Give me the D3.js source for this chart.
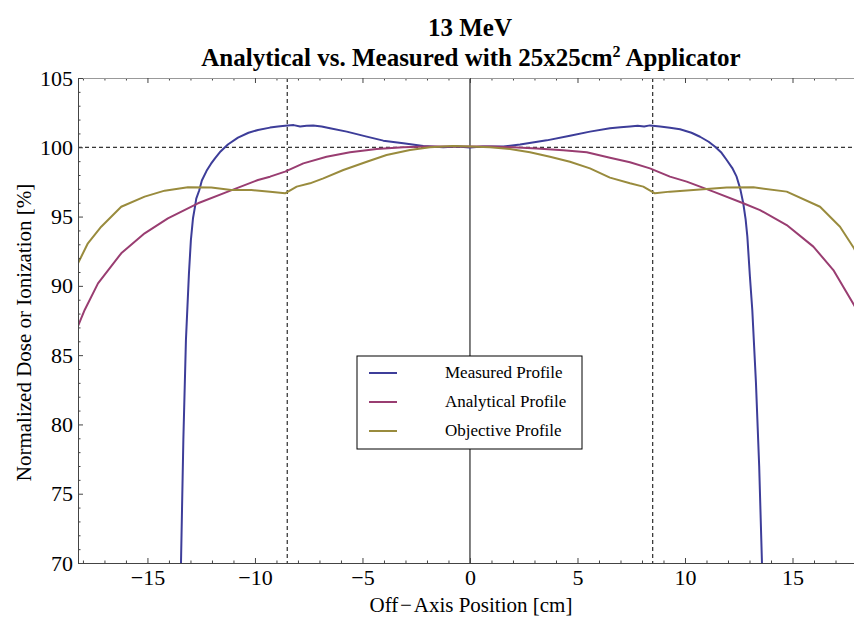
<!DOCTYPE html>
<html>
<head>
<meta charset="utf-8">
<script src="https://cdn.jsdelivr.net/npm/d3@7"></script>
<style>
  body { margin: 0; background: #fff; }
  svg { display: block; }
  svg text { font-family: "Liberation Serif", "Times New Roman", serif; }
</style>
</head>
<body>
<div id="chart"></div>
<script>
// off-axis position [cm] and normalized dose [%]
const measuredX = [-13.55, -13.44, -13.33, -13.21, -13.07, -12.98, -12.88, -12.79, -12.73, -12.59, -12.47, -12.25, -12.05, -11.86, -11.6, -11.26, -10.79, -10.3, -9.86, -9.3, -8.93, -8.6, -8.2, -7.9, -7.6, -7.29, -6.9, -6.51, -5.73, -4.8, -4.03, -3.1, -2.17, -1.24, -0.6, 0, 0.6, 1.55, 2.33, 3.57, 4.65, 5.58, 6.51, 7.0, 7.44, 7.8, 8.1, 8.37, 8.84, 9.3, 9.77, 10.3, 10.7, 11.1, 11.4, 11.7, 11.94, 12.2, 12.4, 12.57, 12.71, 12.82, 12.9, 13.02, 13.13, 13.3, 13.45, 13.58, 13.7];
const measuredY = [68, 70, 78.9, 86.1, 90.9, 93.3, 94.9, 95.7, 96.3, 96.9, 97.6, 98.3, 98.8, 99.2, 99.7, 100.2, 100.7, 101.05, 101.25, 101.42, 101.5, 101.55, 101.6, 101.5, 101.55, 101.58, 101.5, 101.37, 101.13, 100.77, 100.48, 100.29, 100.09, 100.0, 100.05, 99.98, 100.05, 100.05, 100.2, 100.5, 100.84, 101.13, 101.37, 101.45, 101.5, 101.55, 101.5, 101.58, 101.5, 101.41, 101.3, 101.05, 100.76, 100.4, 100.04, 99.6, 99.08, 98.5, 97.88, 97.0, 95.96, 94.8, 93.55, 90.66, 88.26, 83, 77, 70, 66];

const analyticalX = [-18.5, -18.23, -17.92, -17.3, -16.22, -15.13, -14.05, -12.65, -11.26, -9.86, -9.3, -8.6, -7.75, -6.67, -5.58, -4.34, -3.1, -2, -1, 0, 1, 2, 3.1, 4.34, 5.43, 6.51, 7.44, 8.37, 9.3, 10.08, 11.32, 12.71, 13.49, 14.73, 15.97, 16.9, 17.86, 18.1];
const analyticalY = [86.5, 87.1, 88.26, 90.18, 92.35, 93.79, 94.87, 95.96, 96.8, 97.64, 97.88, 98.24, 98.84, 99.32, 99.64, 99.88, 100.0, 100.05, 100.05, 100.05, 100.05, 100.0, 99.92, 99.78, 99.64, 99.25, 98.92, 98.48, 97.88, 97.52, 96.8, 95.96, 95.47, 94.39, 92.83, 91.14, 88.62, 88.0];

const objectiveX = [-18.5, -18.23, -17.77, -17.15, -16.22, -15.13, -14.2, -13.12, -12.03, -11.1, -10.17, -9.3, -8.6, -8.06, -7.44, -6.82, -5.89, -4.8, -3.88, -2.79, -1.86, -0.78, 0, 0.93, 1.86, 2.79, 3.72, 4.65, 5.58, 6.51, 7.44, 8.06, 8.6, 9.3, 10.39, 11.94, 13.18, 14.73, 16.28, 17.21, 17.86, 18.1];
const objectiveY = [90.8, 91.63, 93.07, 94.27, 95.71, 96.44, 96.87, 97.11, 97.09, 96.92, 96.92, 96.8, 96.68, 97.16, 97.4, 97.76, 98.36, 98.96, 99.44, 99.8, 100.0, 100.09, 100.05, 100.0, 99.88, 99.64, 99.32, 98.96, 98.48, 97.81, 97.4, 97.16, 96.68, 96.8, 96.92, 97.09, 97.11, 96.8, 95.71, 94.27, 92.71, 92.0];

const seriesNames = ["Measured Profile", "Analytical Profile", "Objective Profile"];
const seriesColors = ["#3d3d99", "#993d71", "#998b3d"];
const xTicks = [-15, -10, -5, 0, 5, 10, 15];
const yTicks = [70, 75, 80, 85, 90, 95, 100, 105];
const fieldEdge = 8.5;

const W = 854, H = 617;
const margin = { top: 78, right: 0, bottom: 54, left: 78 };
const width = W - margin.left - margin.right,
      height = H - margin.top - margin.bottom;
const serif = "'Liberation Serif', 'Times New Roman', serif";

const svg = d3.select("#chart").append("svg")
  .attr("width", W)
  .attr("height", H);

const x = d3.scaleLinear().domain([-18.23, 17.86]).range([0, width]);
const y = d3.scaleLinear().domain([70, 105]).range([height, 0]);

const g = svg.append("g")
  .attr("transform", `translate(${margin.left},${margin.top})`);

g.append("clipPath").attr("id", "clip")
  .append("rect").attr("width", width).attr("height", height);

// title
svg.append("text")
  .attr("x", 470).attr("y", 36)
  .attr("text-anchor", "middle")
  .style("font-size", "25px").style("font-weight", "bold")
  .text("13 MeV");

const t2 = svg.append("text")
  .attr("x", 471).attr("y", 66)
  .attr("text-anchor", "middle")
  .style("font-size", "25px").style("font-weight", "bold");
t2.append("tspan").text("Analytical vs. Measured with 25x25cm");
t2.append("tspan").attr("dy", -9).style("font-size", "16px").text("2");
t2.append("tspan").attr("dy", 9).text(" Applicator");

// reference lines
const ref = g.append("g").attr("clip-path", "url(#clip)");
ref.append("line")
  .attr("x1", 0).attr("x2", width)
  .attr("y1", y(100)).attr("y2", y(100))
  .attr("stroke", "#000").attr("stroke-dasharray", "4,3");
[-fieldEdge, fieldEdge].forEach(v => {
  ref.append("line")
    .attr("x1", x(v)).attr("x2", x(v))
    .attr("y1", 0).attr("y2", height)
    .attr("stroke", "#000").attr("stroke-dasharray", "4,3");
});
ref.append("line")
  .attr("x1", x(0)).attr("x2", x(0))
  .attr("y1", 0).attr("y2", height)
  .attr("stroke", "#000").attr("stroke-width", 1);

// curves
const line = d3.line()
  .x(d => x(d[0]))
  .y(d => y(d[1]));

const series = [
  measuredX.map((v, i) => [v, measuredY[i]]),
  analyticalX.map((v, i) => [v, analyticalY[i]]),
  objectiveX.map((v, i) => [v, objectiveY[i]])
];

ref.selectAll("path.curve")
  .data(series)
  .enter().append("path")
  .attr("class", "curve")
  .attr("d", line)
  .attr("fill", "none")
  .attr("stroke", (d, i) => seriesColors[i])
  .attr("stroke-width", 2)
  .attr("stroke-linejoin", "round");

// axes
const minorX = d3.range(-18, 18, 1).filter(v => v % 5 !== 0);
const minorY = d3.range(70, 106, 1).filter(v => v % 5 !== 0);

function styleAxis(sel) {
  sel.attr("font-family", serif).attr("font-size", 22);
  sel.select(".domain").attr("stroke", "#444");
  sel.selectAll(".tick line").attr("stroke", "#444");
  sel.selectAll("text").attr("fill", "#000");
}

g.append("g")
  .attr("transform", `translate(0,${height})`)
  .call(d3.axisBottom(x).tickValues(minorX).tickSize(-2.5).tickFormat(""))
  .call(styleAxis);
g.append("g")
  .attr("transform", `translate(0,${height})`)
  .call(d3.axisBottom(x).tickValues(xTicks).tickSize(-5).tickPadding(6).tickFormat(d3.format("d")))
  .call(styleAxis);

g.append("g")
  .call(d3.axisTop(x).tickValues(minorX).tickSize(-2.5).tickFormat(""))
  .call(styleAxis)
  .select(".domain").attr("stroke", "#999");
g.append("g")
  .call(d3.axisTop(x).tickValues(xTicks).tickSize(-5).tickFormat(""))
  .call(styleAxis)
  .select(".domain").attr("stroke", "#999");

g.append("g")
  .call(d3.axisLeft(y).tickValues(minorY).tickSize(-2.5).tickFormat(""))
  .call(styleAxis);
g.append("g")
  .call(d3.axisLeft(y).tickValues(yTicks).tickSize(-5).tickPadding(5).tickFormat(d3.format("d")))
  .call(styleAxis);

// axis labels
svg.append("text")
  .attr("x", 471).attr("y", 612)
  .attr("text-anchor", "middle")
  .style("font-size", "21px")
  .text("Off\u200a\u2212\u200aAxis Position [cm]");

svg.append("text")
  .attr("transform", `translate(31,${margin.top + height / 2 + 12}) rotate(-90)`)
  .attr("text-anchor", "middle")
  .style("font-size", "21px")
  .text("Normalized Dose or Ionization [%]");

// legend
const legend = svg.append("g").attr("transform", "translate(357,356)");
legend.append("rect")
  .attr("width", 225).attr("height", 93)
  .attr("fill", "#fff").attr("stroke", "#000").attr("stroke-width", 1);
seriesNames.forEach((name, i) => {
  const row = legend.append("g").attr("transform", `translate(0,${17 + i * 29})`);
  row.append("line")
    .attr("x1", 12).attr("x2", 40)
    .attr("stroke", seriesColors[i]).attr("stroke-width", 2);
  row.append("text")
    .attr("x", 88).attr("y", 5)
    .style("font-size", "17px")
    .text(name);
});
</script>
</body>
</html>
